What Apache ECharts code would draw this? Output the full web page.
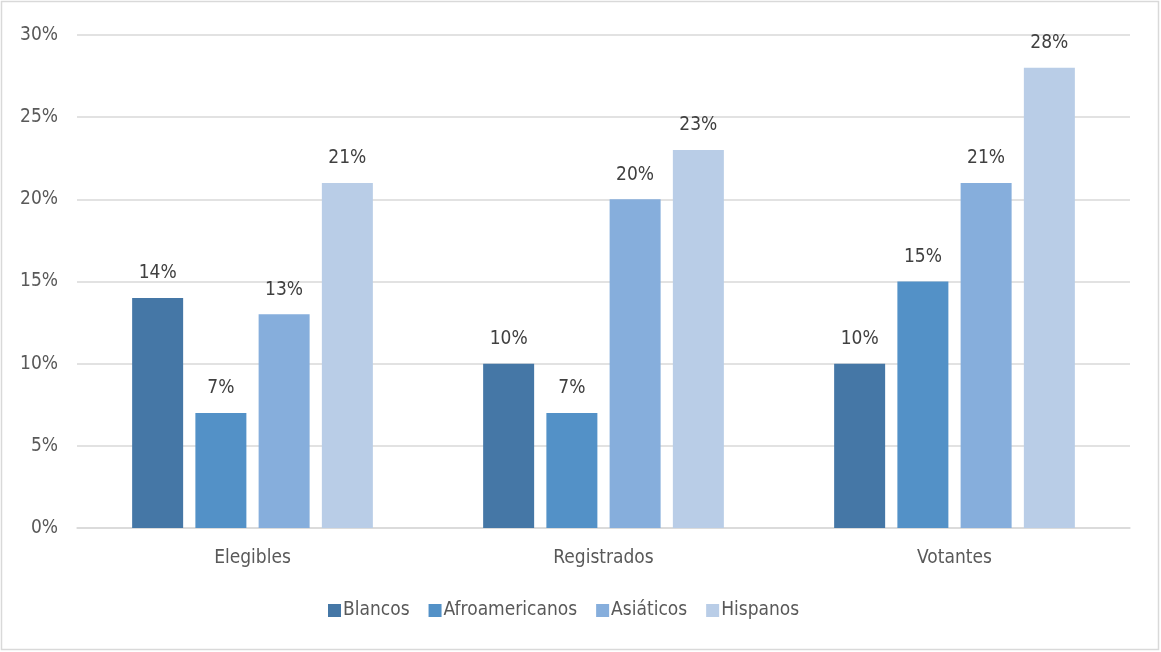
<!DOCTYPE html>
<html><head><meta charset="utf-8">
<script src="https://cdn.jsdelivr.net/npm/echarts@6/dist/echarts.min.js"></script>
<style>html,body{margin:0;padding:0;background:#fff}#c{width:1161px;height:652px}</style>
</head><body><div id="c"></div>
<script>
const categories = ['Elegibles', 'Registrados', 'Votantes'];
const seriesNames = ['Blancos', 'Afroamericanos', 'Asiáticos', 'Hispanos'];
const blancos = [14, 10, 10];
const afroamericanos = [7, 7, 15];
const asiaticos = [13, 20, 21];
const hispanos = [21, 23, 28];
const yTicks = [0, 5, 10, 15, 20, 25, 30];

const values = [blancos, afroamericanos, asiaticos, hispanos];
const colors = ['#4577A6', '#5391C7', '#86AEDC', '#B9CDE7'];
const FONT = '"DejaVu Sans Condensed", "DejaVu Sans"';
const chart = echarts.init(document.getElementById('c'), null, {renderer: 'canvas'});
chart.setOption({
  animation: false,
  textStyle: {fontFamily: FONT},
  graphic: [{type: 'rect', shape: {x: 1.5, y: 1.5, width: 1157, height: 648}, style: {fill: 'none', stroke: '#D9D9D9', lineWidth: 1.5}, silent: true}],
  grid: {left: 77, right: 31, top: 35, bottom: 124},
  legend: {
    bottom: 27, left: 323, itemWidth: 13, itemHeight: 13, itemGap: 19,
    icon: 'rect',
    textStyle: {color: '#595959', fontSize: 19, fontFamily: FONT, padding: [0, 0, 0, -3]},
    data: seriesNames
  },
  xAxis: {
    type: 'category', data: categories,
    axisLine: {lineStyle: {color: '#D9D9D9', width: 1.5}},
    axisTick: {show: false},
    axisLabel: {color: '#595959', fontSize: 19, margin: 21, fontFamily: FONT}
  },
  yAxis: {
    type: 'value', min: yTicks[0], max: yTicks[yTicks.length - 1], interval: 5,
    axisLine: {show: false}, axisTick: {show: false},
    splitLine: {lineStyle: {color: '#D9D9D9', width: 1.5}},
    axisLabel: {color: '#595959', fontSize: 19, margin: 19, fontFamily: FONT, lineHeight: 19, padding: [7, 0, 0, 0], formatter: v => v + '%'}
  },
  series: seriesNames.map((n, i) => ({
    name: n, type: 'bar', data: values[i], barWidth: 51, barGap: '24%',
    itemStyle: {color: colors[i]},
    label: {show: true, position: 'top', distance: 15, color: '#404040', fontSize: 19, fontFamily: FONT, formatter: p => p.value + '%'}
  }))
});
</script></body></html>
